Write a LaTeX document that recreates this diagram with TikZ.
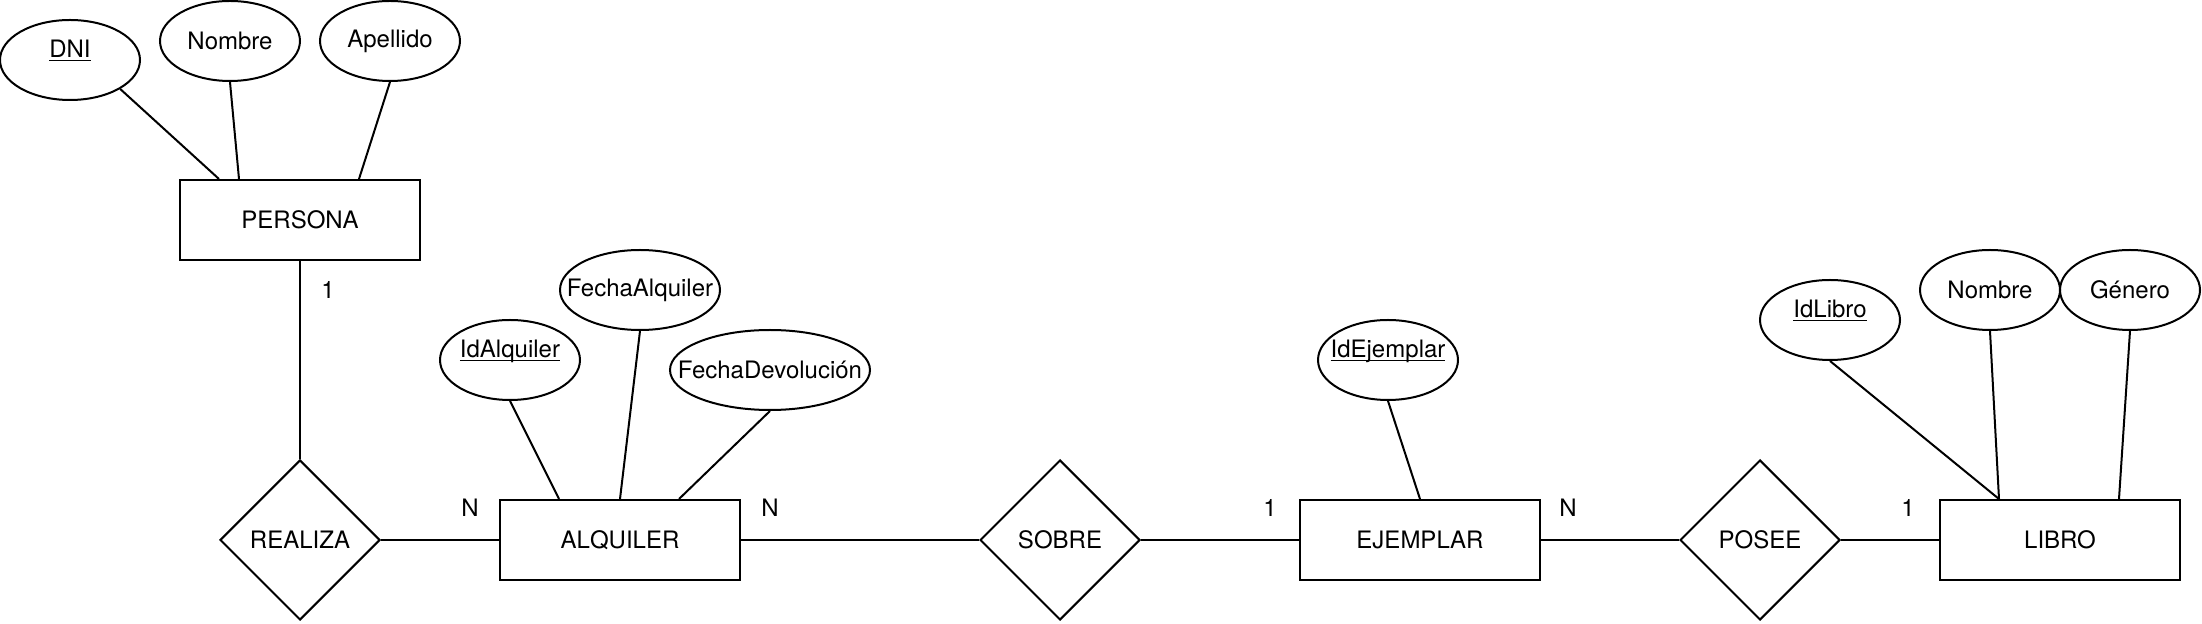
\documentclass[tikz,border=0pt]{standalone}
\usepackage{fontspec}
\setmainfont{TeX Gyre Heros}
\usetikzlibrary{shapes.geometric}
\newcommand{\clave}[1]{\underline{\smash{#1}}}
\tikzset{
	entidad/.style={draw, rectangle, minimum width=120pt, minimum height=40pt, inner sep=0pt},
	atributo/.style={draw, ellipse, minimum width=#1, minimum height=40pt, inner sep=0pt,
		execute at begin node={\hbox to 0pt\bgroup\hss},
		execute at end node={\hss\egroup}},
	atributo/.default=70pt,
	relacion/.style={draw, diamond, minimum width=80pt, minimum height=80pt, inner sep=0pt},
	card/.style={inner sep=0pt},
}

\begin{document}
\begin{tikzpicture}[x=1pt, y=-1pt, line width=1pt,
	font=\fontsize{12pt}{14pt}\selectfont]
\useasboundingbox (0,0) rectangle (1101,312);
\node[atributo] (dni) at (35,30) {\clave{DNI}};
\node[atributo] (nombreP) at (115,20.5) {Nombre};
\node[atributo] (apellido) at (195,20.5) {Apellido};
\node[entidad] (persona) at (150,110) {PERSONA};
\node[relacion] (realiza) at (150,270) {REALIZA};
\node[entidad] (alquiler) at (310,270) {ALQUILER};
\node[atributo] (idalquiler) at (255,180) {\clave{IdAlquiler}};
\node[atributo=80pt] (fechaalq) at (320,145) {FechaAlquiler};
\node[atributo=100pt] (fechadev) at (385,185) {FechaDevolución};
\node[relacion] (sobre) at (530,270) {SOBRE};
\node[entidad] (ejemplar) at (710,270) {EJEMPLAR};
\node[atributo] (idejemplar) at (694,180) {\clave{IdEjemplar}};
\node[relacion] (posee) at (880,270) {POSEE};
\node[entidad] (libro) at (1030,270) {LIBRO};
\node[atributo] (idlibro) at (915,160) {\clave{IdLibro}};
\node[atributo] (nombreL) at (995,145) {Nombre};
\node[atributo] (genero) at (1065,145) {Género};

\draw (dni.-30) -- ([xshift=20pt]persona.north west);
\draw (nombreP.south) -- ([xshift=30pt]persona.north west);
\draw (apellido.south) -- ([xshift=90pt]persona.north west);
\draw (persona) -- (realiza);
\draw (realiza) -- (alquiler);
\draw (idalquiler.south) -- ([xshift=30pt]alquiler.north west);
\draw (fechaalq.south) -- (alquiler.north);
\draw (fechadev.south) -- ([xshift=90pt]alquiler.north west);
\draw (alquiler) -- (sobre);
\draw (sobre) -- (ejemplar);
\draw (idejemplar.south) -- (ejemplar.north);
\draw (ejemplar) -- (posee);
\draw (posee) -- (libro);
\draw (idlibro.south) -- ([xshift=30pt]libro.north west);
\draw (nombreL.south) -- ([xshift=30pt]libro.north west);
\draw (genero.south) -- ([xshift=90pt]libro.north west);

\foreach \n/\x/\y/\t in {1/164/145/1, 2/235/254/N, 3/385/254/N,
			4/635/254/1, 5/784/254/N, 6/954/254/1}
\node[card] (c\n) at (\x,\y) {\t};
\end{tikzpicture}
\end{document}
